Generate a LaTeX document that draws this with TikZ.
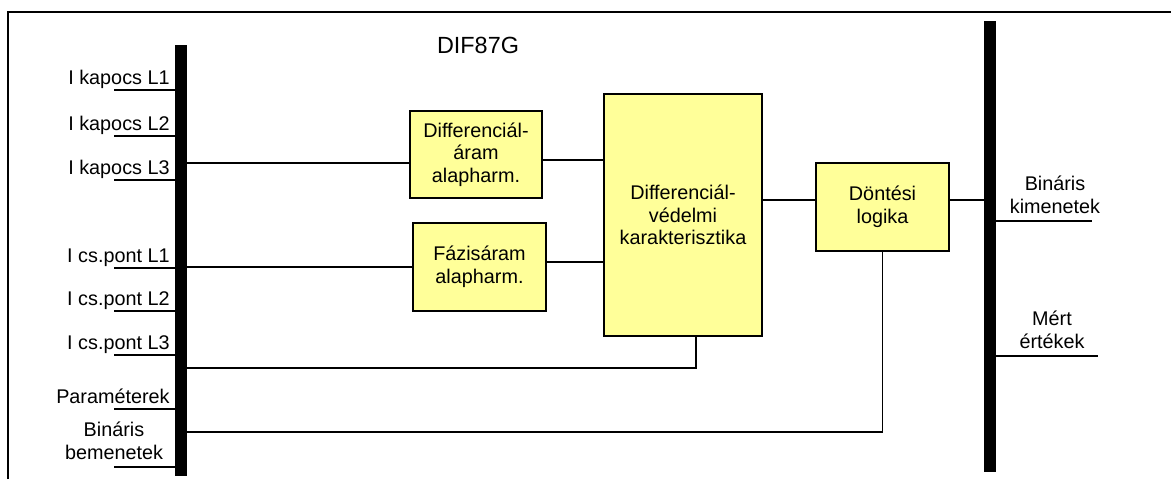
\documentclass[tikz,border=0pt]{standalone}
\usepackage{fontspec}
\setmainfont{Liberation Sans}
\definecolor{sarga}{RGB}{255,255,153}
\begin{document}
\begin{tikzpicture}[x=0.5pt, y=-0.5pt, font=\fontsize{9.9}{11.3}\selectfont,
  blokk/.style={draw, line width=1.1pt, fill=sarga, align=center, inner sep=0pt},
  sin/.style={fill=black, inner sep=0pt, minimum width=6pt},
  vez/.style={line width=0.75pt}]
\useasboundingbox (0,0) rectangle (1171,479);
\draw[line width=1pt] (8,479)--(8,12)--(1171,12);
\node[font=\fontsize{11.7}{13}\selectfont] (cim) at (478,45) {DIF87G};

% gyujtosinek
\node[sin, minimum height=215.5pt] (balsin) at (181,260.5) {};
\node[sin, minimum height=225.5pt] (jobbsin) at (990,246.5) {};

% blokkok
\node[blokk, minimum width=66pt, minimum height=43.5pt] (dif) at (476,154.5) {Differenciál-\\áram\\alapharm.};
\node[blokk, minimum width=66.5pt, minimum height=44pt] (fazis) at (479.5,267) {Fázisáram\\alapharm.};
\node[blokk, minimum width=79pt, minimum height=121pt] (kar) at (683,215) {Differenciál-\\védelmi\\karakterisztika};
\node[blokk, minimum width=66.5pt, minimum height=44pt] (dont) at (882.5,207) {Döntési\\logika};

% bemenetek
\foreach \y/\szoveg in {90/I kapocs L1, 136/I kapocs L2, 180/I kapocs L3, 268/I cs.pont L1, 311/I cs.pont L2, 355/I cs.pont L3, 409/Paraméterek}
{
    \node[anchor=base east, inner sep=0pt] (be\y) at (170,\y-6) {\szoveg};
    \draw[vez] (114,\y)--(balsin.west |- 0,\y);
}
\node[anchor=south, align=center, inner sep=0pt] (bebin) at (114,460) {Bináris\\bemenetek};
\draw[vez] (114,467)--(balsin.west |- 0,467);

% kimenetek
\node[anchor=south, align=center, inner sep=0pt] (kibin) at (1055,214) {Bináris\\kimenetek};
\draw[vez] (jobbsin.east |- 0,221)--(1092,221);
\node[anchor=south, align=center, inner sep=0pt] (mert) at (1052,349) {Mért\\értékek};
\draw[vez] (jobbsin.east |- 0,356)--(1098,356);

% jelutak
\draw[vez] (balsin.east |- 0,163)--(dif.west |- 0,163);
\draw[vez] (balsin.east |- 0,267)--(fazis.west |- 0,267);
\draw[vez] (dif.east |- 0,160)--(kar.west |- 0,160);
\draw[vez] (fazis.east |- 0,262)--(kar.west |- 0,262);
\draw[vez] (kar.east |- 0,200)--(dont.west |- 0,200);
\draw[vez] (dont.east |- 0,200)--(jobbsin.west |- 0,200);
\draw[vez] (balsin.east |- 0,368)-|(696,0 |- kar.south);
\draw[vez] (balsin.east |- 0,432)-|(dont.south);

\end{tikzpicture}
\end{document}
